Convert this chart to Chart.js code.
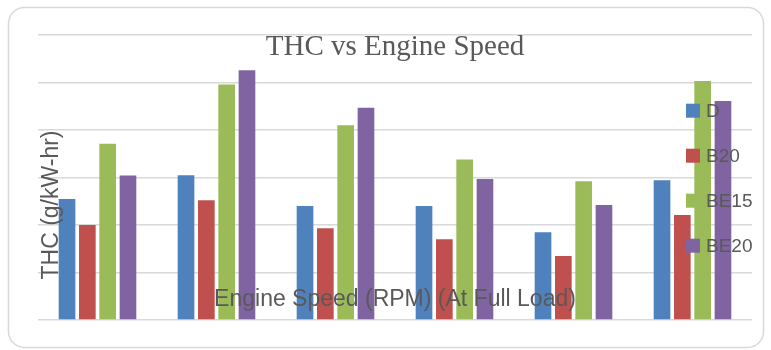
<!DOCTYPE html>
<html>
<head>
<meta charset="utf-8">
<script src="https://cdn.jsdelivr.net/npm/chart.js@4/dist/chart.umd.min.js"></script>
<style>
  html, body { margin: 0; padding: 0; background: #ffffff; }
  canvas { display: block; }
</style>
</head>
<body>
<canvas id="thc" width="771" height="350"></canvas>
<script>
// Engine speed groups (labels are not printed on the axis)
const categories = ["S1", "S2", "S3", "S4", "S5", "S6"];

// THC emission per fuel blend
const seriesD    = [2.55, 3.05, 2.40, 2.40, 1.85, 2.94];
const seriesB20  = [2.00, 2.52, 1.93, 1.70, 1.35, 2.21];
const seriesBE15 = [3.71, 4.96, 4.10, 3.38, 2.92, 5.03];
const seriesBE20 = [3.04, 5.26, 4.47, 2.97, 2.42, 4.61];

const seriesNames  = ["D", "B20", "BE15", "BE20"];
const seriesColors = ["#4F81BD", "#C0504D", "#9BBB59", "#8064A2"];

const chartTitle = "THC vs Engine Speed";
const xTitle = "Engine Speed (RPM) (At Full Load)";
const yTitle = "THC (g/kW-hr)";

const TEXT_GREY = "#595959";
const SANS = "'Liberation Sans', Arial, sans-serif";

// Rounded frame around the whole chart
const framePlugin = {
  id: "frame",
  beforeDraw(chart) {
    const ctx = chart.ctx;
    ctx.save();
    ctx.fillStyle = "#ffffff";
    ctx.fillRect(0, 0, chart.width, chart.height);
    ctx.strokeStyle = "#d9d9d9";
    ctx.lineWidth = 1.5;
    ctx.beginPath();
    ctx.roundRect(8.5, 7.5, 755, 340, 16);
    ctx.stroke();
    ctx.restore();
  }
};

// Titles and legend painted on top of the plot area
const overlayPlugin = {
  id: "overlay",
  afterDatasetsDraw(chart) {
    const ctx = chart.ctx;
    const area = chart.chartArea;
    const cx = (area.left + area.right) / 2;
    ctx.save();
    ctx.fillStyle = TEXT_GREY;

    // chart title
    ctx.font = "29px 'Liberation Serif', 'Times New Roman', serif";
    ctx.textAlign = "center";
    ctx.textBaseline = "alphabetic";
    ctx.fillText(chartTitle, cx, 55);

    // x axis title
    ctx.font = "23px " + SANS;
    ctx.textBaseline = "middle";
    ctx.fillText(xTitle, cx, 300);

    // y axis title
    ctx.save();
    ctx.translate(52, 205);
    ctx.rotate(-Math.PI / 2);
    ctx.fillText(yTitle, 0, 0);
    ctx.restore();

    // legend
    ctx.font = "19px " + SANS;
    ctx.textAlign = "left";
    seriesNames.forEach((name, i) => {
      const y = 110.7 + i * 45;
      ctx.fillStyle = seriesColors[i];
      ctx.fillRect(686, y - 7, 14, 14);
      ctx.fillStyle = TEXT_GREY;
      ctx.fillText(name, 706, y + 1);
    });
    ctx.restore();
  }
};

const seriesData = [seriesD, seriesB20, seriesBE15, seriesBE20];

new Chart(document.getElementById("thc"), {
  type: "bar",
  data: {
    labels: categories,
    datasets: seriesNames.map((name, i) => ({
      label: name,
      data: seriesData[i],
      backgroundColor: seriesColors[i],
      borderWidth: 0,
      categoryPercentage: 0.683,
      barPercentage: 0.82
    }))
  },
  options: {
    responsive: false,
    animation: false,
    layout: { padding: { left: 38, right: 19, top: 35, bottom: 30 } },
    plugins: {
      legend: { display: false },
      title: { display: false },
      tooltip: { enabled: false }
    },
    scales: {
      x: {
        grid: { display: false, drawTicks: false },
        border: { display: false },
        ticks: { display: false }
      },
      y: {
        min: 0,
        max: 6,
        ticks: { display: false, stepSize: 1 },
        grid: { color: "#d9d9d9", lineWidth: 1.5, drawTicks: false },
        border: { display: false }
      }
    }
  },
  plugins: [framePlugin, overlayPlugin]
});
</script>
</body>
</html>
